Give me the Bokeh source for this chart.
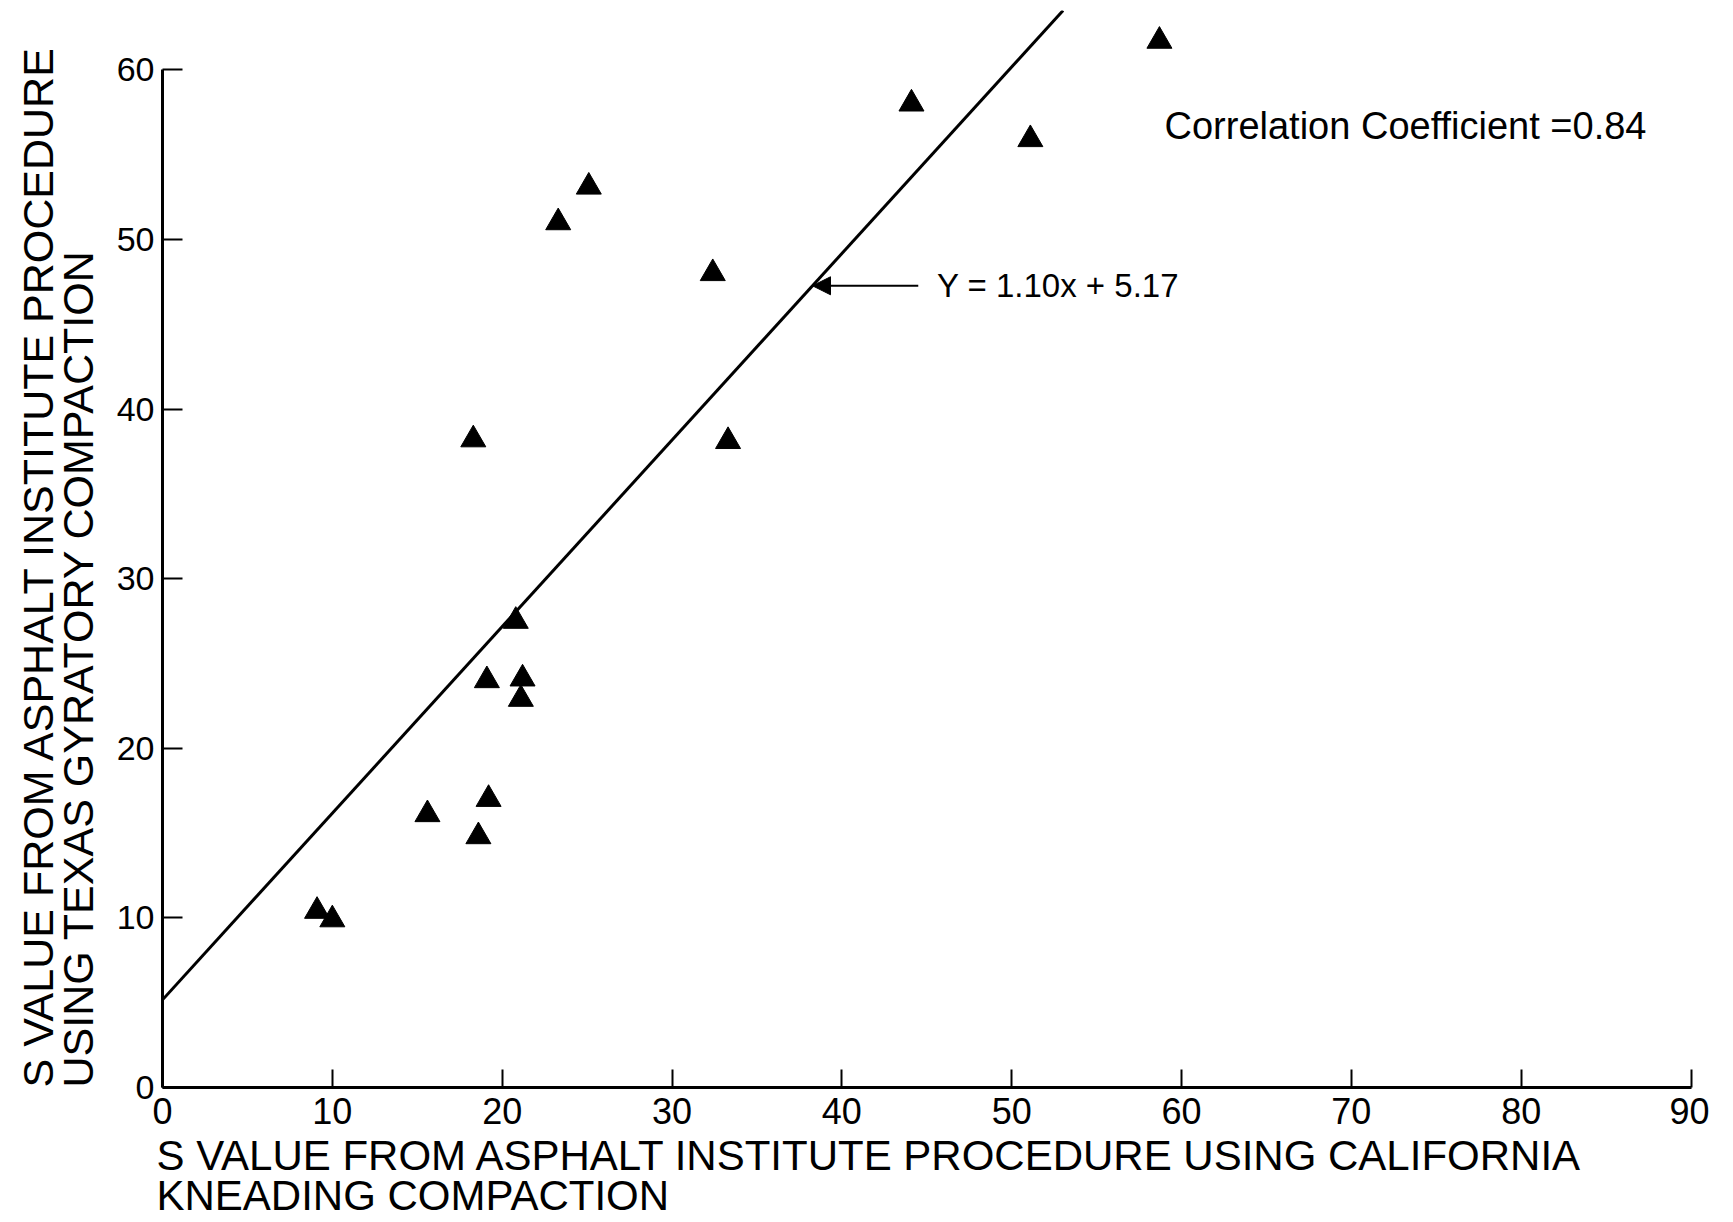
from bokeh.plotting import figure
from bokeh.models import Label, Arrow, NormalHead, Slope, FixedTicker, Range1d, Title
from bokeh.embed import file_html
from bokeh.resources import INLINE

# S value, California kneading compaction (x) vs Texas gyratory compaction (y)
s_california = [58.7, 44.1, 51.1, 25.1, 23.3, 32.4, 18.3, 33.3, 20.8,
                19.1, 21.2, 21.1, 19.2, 15.6, 18.6, 9.1, 10.0]
s_texas = [61.7, 58.0, 55.9, 53.1, 51.0, 48.0, 38.2, 38.1, 27.5,
           24.0, 24.1, 22.9, 17.0, 16.1, 14.8, 10.4, 9.9]

x_ticks = [0, 10, 20, 30, 40, 50, 60, 70, 80, 90]
y_ticks = [0, 10, 20, 30, 40, 50, 60]

fit_slope = 1.10
fit_intercept = 5.17
fit_text = "Y = 1.10x + 5.17"
corr_text = "Correlation Coefficient =0.84"

x_title = ["S VALUE FROM ASPHALT INSTITUTE PROCEDURE USING CALIFORNIA",
           "KNEADING COMPACTION"]
y_title = ["S VALUE FROM ASPHALT INSTITUTE PROCEDURE",
           "USING TEXAS GYRATORY COMPACTION"]

FONT = "Liberation Sans"

p = figure(width=1709, height=1222, output_backend="svg", toolbar_location=None,
           x_range=Range1d(0, 90.5), y_range=Range1d(0, 63.5),
           min_border_left=154, min_border_right=10, min_border_top=10,
           min_border_bottom=130)
p.outline_line_color = None
p.grid.visible = False
p.background_fill_color = "white"
p.border_fill_color = "white"

for ax in (p.xaxis[0], p.yaxis[0]):
    ax.axis_line_width = 3
    ax.axis_line_color = "black"
    ax.major_tick_line_width = 2
    ax.major_tick_line_color = "black"
    ax.major_tick_out = 0
    ax.minor_tick_line_color = None
    ax.major_label_text_font = FONT
    ax.major_label_text_color = "black"
    ax.axis_label = None

p.xaxis.ticker = FixedTicker(ticks=x_ticks)
p.yaxis.ticker = FixedTicker(ticks=y_ticks)
p.xaxis.bounds = (x_ticks[0], x_ticks[-1])
p.yaxis.bounds = (y_ticks[0], y_ticks[-1])
p.xaxis.major_tick_in = 18
p.yaxis.major_tick_in = 20
p.xaxis.major_label_text_font_size = "36px"
p.yaxis.major_label_text_font_size = "34px"
p.xaxis.major_label_standoff = 10
p.yaxis.major_label_standoff = 8

# axis titles as two-line, left-aligned titles in the side panels
p.add_layout(Title(text="\n".join(x_title), align="left", text_font=FONT,
                   text_font_size="42px", text_font_style="normal",
                   text_color="black", text_line_height=0.85, standoff=7,
                   offset=-6), "below")
p.add_layout(Title(text="\n".join(y_title), align="left", text_font=FONT,
                   text_font_size="43px", text_font_style="normal",
                   text_color="black", text_line_height=0.85, standoff=22), "left")

# regression line
p.add_layout(Slope(gradient=fit_slope, y_intercept=fit_intercept,
                   line_color="black", line_width=3))

# data points
p.scatter(s_california, s_texas, marker="triangle", size=25,
          fill_color="black", line_color="black")

# arrow and equation
arrow_y = 47.27
arrow_tip_x = (arrow_y - fit_intercept) / fit_slope
p.add_layout(Arrow(end=NormalHead(size=18, fill_color="black", line_color="black"),
                   x_start=44.5, y_start=arrow_y, x_end=arrow_tip_x, y_end=arrow_y,
                   line_width=2, line_color="black"))
p.add_layout(Label(x=45.6, y=arrow_y, text=fit_text, text_font=FONT,
                   text_font_size="33px", text_baseline="middle", text_align="left",
                   text_color="black"))

p.add_layout(Label(x=59.0, y=56.7, text=corr_text, text_font=FONT,
                   text_font_size="38px", text_baseline="middle", text_align="left",
                   text_color="black"))

open("out.html", "w").write(file_html(p, INLINE))
